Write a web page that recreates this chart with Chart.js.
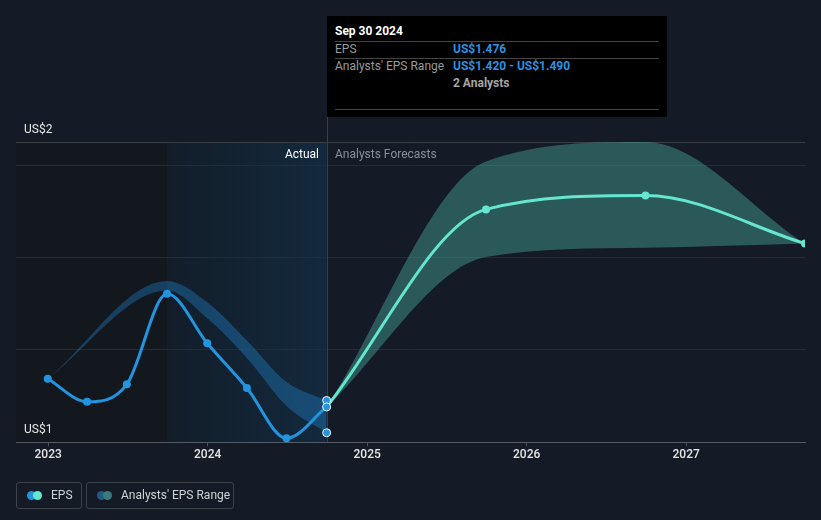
<!DOCTYPE html>
<html>
<head>
<meta charset="utf-8">
<script src="https://cdn.jsdelivr.net/npm/chart.js@4.4.1/dist/chart.umd.min.js"></script>
<style>
  body { margin: 0; background: #151b26; font-family: Roboto, 'Noto Sans', sans-serif; }
  #wrap { position: relative; width: 821px; height: 520px; overflow: hidden; }
  canvas { position: absolute; left: 0; top: 0; }
  .tip { position: absolute; left: 327px; top: 16px; width: 340px; height: 101px; background: #000; font-size: 12px; }
  .tip div { position: absolute; line-height: 14px; white-space: nowrap; }
  .tip .sep { left: 8px; width: 324px; height: 1px; background: #444; }
  .tip .lbl { left: 8px; color: #9b9b9b; }
  .tip .val { left: 126px; color: #2d91e0; font-weight: bold; }
  .marker { position: absolute; top: 147px; font-size: 12px; line-height: 14px; }
  .legend { position: absolute; top: 482px; height: 25px; border: 1px solid #3d424b; border-radius: 3px; box-sizing: content-box; }
  .legend span.txt { position: absolute; top: 5px; font-size: 12px; line-height: 14px; color: #cfd2d6; }
  .dot { position: absolute; top: 8px; width: 9px; height: 9px; border-radius: 50%; }
</style>
</head>
<body>
<div id="wrap">
  <canvas id="chart" width="821" height="520"></canvas>

  <div class="marker" style="right:502px; color:#ffffff;">Actual</div>
  <div class="marker" style="left:335px; color:#8a8f98;">Analysts Forecasts</div>

  <div class="tip">
    <div style="left:8px; top:8px; color:#fff; font-weight:bold;">Sep 30 2024</div>
    <div class="sep" style="top:25px;"></div>
    <div class="lbl" style="top:26px;">EPS</div>
    <div class="val" style="top:26px;">US$1.476</div>
    <div class="sep" style="top:42px;"></div>
    <div class="lbl" style="top:43px;">Analysts' EPS Range</div>
    <div class="val" style="top:43px;">US$1.420 - US$1.490</div>
    <div class="lbl" style="left:126px; top:60px; font-weight:bold; color:#a5a5a5;">2 Analysts</div>
    <div class="sep" style="top:93px;"></div>
  </div>

  <div class="legend" style="left:16px; width:64px;">
    <span class="dot" style="left:10px; background:#2394df;"></span>
    <span class="dot" style="left:16px; background:#64e6cf;"></span>
    <span class="txt" style="left:34px;">EPS</span>
  </div>
  <div class="legend" style="left:86px; width:146px;">
    <span class="dot" style="left:10px; background:#1f5a85;"></span>
    <span class="dot" style="left:16px; background:#3b7a78;"></span>
    <span class="txt" style="left:34px;">Analysts' EPS Range</span>
  </div>
</div>

<script>
// actual EPS (quarterly, trailing)
const epsDates = ['2022-12-31', '2023-03-31', '2023-06-30', '2023-09-30', '2023-12-31', '2024-03-31', '2024-06-30', '2024-09-30'];
const epsActual = [1.537, 1.487, 1.525, 1.721, 1.614, 1.517, 1.408, 1.476];

// past analyst range
const pastRangeDates = ['2022-12-31', '2023-09-30', '2023-12-31', '2024-03-31', '2024-06-30', '2024-09-30'];
const pastRangeLow = [1.537, 1.728, 1.668, 1.582, 1.478, 1.420];
const pastRangeHigh = [1.537, 1.749, 1.703, 1.620, 1.530, 1.490];

// forecasts
const forecastDates = ['2024-09-30', '2025-09-30', '2026-09-30', '2027-09-30'];
const forecastEps = [1.476, 1.904, 1.934, 1.830];
const forecastLow = [1.476, 1.801, 1.821, 1.830];
const forecastHigh = [1.476, 2.008, 2.050, 1.830];

// highlighted date (tooltip)
const highlightDate = '2024-09-30';
const highlightValues = [1.490, 1.476, 1.420];

const yearTicks = [2023, 2024, 2025, 2026, 2027];
const yGrid = [1.4, 1.6, 1.8, 2.0, 2.05];
const yMin = 1.4, yMax = 2.05;

function decYear(s) {
    const [y, m, d] = s.split('-').map(Number);
    const start = Date.UTC(y, 0, 1), end = Date.UTC(y + 1, 0, 1);
    return y + (Date.UTC(y, m - 1, d) - start) / (end - start);
}
const pts = (dates, vals) => dates.map((d, i) => ({ x: decYear(d), y: vals[i] }));

const xMax = decYear('2027-09-30');
const xMin = xMax - 4.947;

const backdrop = {
    id: 'backdrop',
    beforeDraw(chart) {
        const { ctx, chartArea: a, scales: { x } } = chart;
        const x1 = x.getPixelForValue(decYear('2023-09-30'));
        const x2 = x.getPixelForValue(decYear(highlightDate));
        ctx.save();
        ctx.fillStyle = '#13171e';
        ctx.fillRect(a.left, a.top, x1 - a.left, a.bottom - a.top);
        const g = ctx.createLinearGradient(x1, 0, x2, 0);
        g.addColorStop(0, '#121d29');
        g.addColorStop(1, '#13293d');
        ctx.fillStyle = g;
        ctx.fillRect(x1, a.top, x2 - x1, a.bottom - a.top);
        ctx.restore();
    },
    beforeDatasetsDraw(chart) {
        const { ctx, chartArea: a, scales: { x } } = chart;
        const x2 = Math.round(x.getPixelForValue(decYear(highlightDate))) + 0.5;
        ctx.save();
        ctx.strokeStyle = '#24435f';
        ctx.lineWidth = 1;
        ctx.beginPath();
        ctx.moveTo(x2, 16);
        ctx.lineTo(x2, a.bottom);
        ctx.stroke();
        ctx.restore();
    },
    afterDraw(chart) {
        const { ctx, scales: { y } } = chart;
        ctx.save();
        ctx.font = '12px Roboto';
        ctx.fillStyle = '#e8e8e8';
        ctx.textBaseline = 'middle';
        ctx.fillText('US$2', 24, y.getPixelForValue(yMax) - 12);
        ctx.fillText('US$1', 24, y.getPixelForValue(yMin) - 12);
        ctx.restore();
    }
};

Chart.defaults.font.family = 'Roboto';

new Chart(document.getElementById('chart'), {
    type: 'line',
    data: {
        datasets: [
            {
                data: pts([highlightDate, highlightDate, highlightDate], highlightValues),
                showLine: false, pointRadius: 4, pointBackgroundColor: '#2394df',
                pointBorderColor: '#ffffff', pointBorderWidth: 1, order: 0, clip: false
            },
            {
                data: pts(epsDates, epsActual), borderColor: '#2394df', borderWidth: 3,
                cubicInterpolationMode: 'monotone', pointRadius: 4, pointBackgroundColor: '#2394df',
                pointBorderWidth: 0, order: 1, clip: false
            },
            {
                data: pts(forecastDates, forecastEps), borderColor: '#64e6cf', borderWidth: 3,
                cubicInterpolationMode: 'monotone', pointRadius: [0, 4, 4, 4], pointBackgroundColor: '#64e6cf',
                pointBorderWidth: 0, order: 2, clip: { left: false, top: false, right: 0, bottom: false }
            },
            {
                data: pts(pastRangeDates, pastRangeHigh), borderWidth: 0, pointRadius: 0,
                cubicInterpolationMode: 'monotone', fill: '+1', backgroundColor: 'rgba(33,150,232,0.33)', order: 5
            },
            {
                data: pts(pastRangeDates, pastRangeLow), borderWidth: 0, pointRadius: 0,
                cubicInterpolationMode: 'monotone', fill: false, order: 6
            },
            {
                data: pts(forecastDates, forecastHigh), borderWidth: 0, pointRadius: 0,
                cubicInterpolationMode: 'monotone', fill: '+1', backgroundColor: 'rgba(80,190,170,0.38)', order: 7, clip: 0
            },
            {
                data: pts(forecastDates, forecastLow), borderWidth: 0, pointRadius: 0,
                cubicInterpolationMode: 'monotone', fill: false, order: 8
            }
        ]
    },
    options: {
        responsive: false,
        animation: false,
        events: [],
        layout: { padding: { left: 16, right: 16, top: 142, bottom: 0 } },
        plugins: { legend: { display: false }, tooltip: { enabled: false } },
        scales: {
            x: {
                type: 'linear', min: xMin, max: xMax,
                afterFit: s => { s.height = 78; },
                afterBuildTicks: s => { s.ticks = yearTicks.map(v => ({ value: v })); },
                ticks: { color: '#e6e6e6', font: { size: 12, weight: '500' }, padding: 2, callback: v => String(v), maxRotation: 0 },
                grid: { drawOnChartArea: false, drawTicks: true, tickLength: 4, color: '#4a4f58' },
                border: { color: '#555b66' }
            },
            y: {
                min: yMin, max: yMax,
                afterFit: s => { s.width = 0; },
                afterBuildTicks: s => { s.ticks = yGrid.map(v => ({ value: v })); },
                ticks: { display: false },
                grid: {
                    drawTicks: false,
                    color: c => (c.tick && c.tick.value === yMax ? '#3a3f47' : '#252a33')
                },
                border: { display: false }
            }
        }
    },
    plugins: [backdrop]
});
</script>
</body>
</html>
